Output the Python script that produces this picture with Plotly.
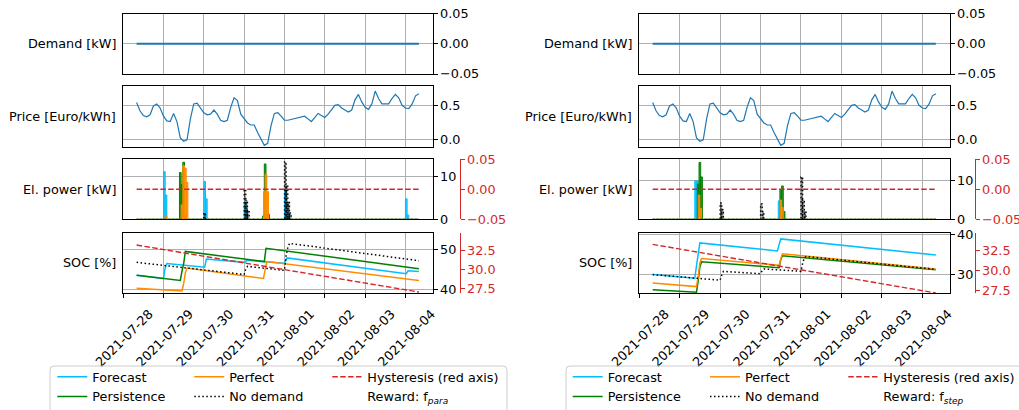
import pandas as pd
import plotly.graph_objects as go

W, H = 1019, 410
FS = 12.8
RED = "#d62728"
C_FORECAST = "#00bfff"
C_PERSIST = "#008000"
C_PERFECT = "#ff8c00"
C_NODEM = "black"
C_BASE = "#1f77b4"

T_START = "2021-07-28 08:00"
T_END = "2021-08-04 08:00"
X_RANGE = ["2021-07-27 23:36", "2021-08-04 16:24"]
DAY_TICKS = ["2021-07-28", "2021-07-29", "2021-07-30", "2021-07-31",
             "2021-08-01", "2021-08-02", "2021-08-03", "2021-08-04"]

# ---------------- demand & price (same in both panels) ----------------
DEMAND_T = [T_START, T_END]
DEMAND_KW = [0.0, 0.0]

PRICE_EUR_KWH = [0.54, 0.42, 0.35, 0.33, 0.36, 0.49, 0.52, 0.46, 0.34, 0.27, 0.26, 0.38,
                 0.26, 0.02, -0.03, -0.01, 0.30, 0.52, 0.53, 0.45, 0.39, 0.36, 0.37, 0.43,
                 0.37, 0.28, 0.26, 0.28, 0.47, 0.61, 0.57, 0.37, 0.31, 0.24, 0.21, 0.21,
                 0.10, 0.01, -0.09, -0.06, 0.20, 0.38, 0.39, 0.34, 0.28, 0.28, 0.29, 0.30,
                 0.31, 0.33, 0.34, 0.30, 0.26, 0.32, 0.38, 0.35, 0.32, 0.37, 0.44, 0.50,
                 0.51, 0.46, 0.43, 0.40, 0.43, 0.58, 0.66, 0.55, 0.47, 0.44, 0.52, 0.71,
                 0.60, 0.52, 0.52, 0.52, 0.60, 0.66, 0.61, 0.50, 0.46, 0.45, 0.52, 0.64, 0.67]
PRICE_T = pd.date_range(T_START, periods=len(PRICE_EUR_KWH), freq="2h")

# ---------------- electrical power events (hour start, kW) ----------------
# left panel (f_para)
PWR_L_FORECAST_T = ["2021-07-29 00:00", "2021-07-29 01:00", "2021-07-30 00:00", "2021-07-30 01:00",
                    "2021-07-31 00:00", "2021-07-31 01:00", "2021-08-01 00:00", "2021-08-01 01:00",
                    "2021-08-01 02:00", "2021-08-04 00:00", "2021-08-04 01:00"]
PWR_L_FORECAST = [11.2, 5.7, 8.9, 4.8, 4.0, 2.5, 7.0, 4.0, 1.5, 4.8, 1.0]
PWR_L_PERSIST_T = ["2021-07-29 09:30", "2021-07-29 10:30", "2021-07-29 11:30",
                   "2021-07-31 11:00", "2021-07-31 12:00", "2021-07-31 14:00"]
PWR_L_PERSIST = [11.0, 8.2, 13.4, 0.8, 13.0, 1.2]
PWR_L_PERFECT_T = ["2021-07-29 01:00", "2021-07-29 10:30", "2021-07-29 11:30", "2021-07-29 12:30",
                   "2021-07-29 13:30", "2021-07-31 11:30", "2021-07-31 12:30", "2021-07-31 13:30"]
PWR_L_PERFECT = [0.9, 3.4, 12.6, 12.0, 8.7, 6.5, 10.6, 6.5]
PWR_L_NODEM_T = ["2021-07-30 00:00", "2021-07-31 00:00", "2021-07-31 01:00", "2021-07-31 02:00",
                 "2021-08-01 00:00", "2021-08-01 01:00", "2021-08-01 02:00", "2021-08-01 03:00"]
PWR_L_NODEM = [1.5, 7.0, 4.5, 2.0, 13.5, 8.0, 4.0, 1.5]

# right panel (f_step)
PWR_R_FORECAST_T = ["2021-07-29 09:00", "2021-07-29 10:00", "2021-07-31 10:30"]
PWR_R_FORECAST = [9.8, 9.8, 4.7]
PWR_R_PERSIST_T = ["2021-07-29 10:30", "2021-07-29 11:30", "2021-07-29 12:30",
                   "2021-07-31 11:30", "2021-07-31 12:30", "2021-07-31 13:30"]
PWR_R_PERSIST = [9.0, 14.5, 10.8, 7.6, 8.5, 2.0]
PWR_R_PERFECT_T = ["2021-07-29 11:00", "2021-07-29 12:00", "2021-07-31 11:30", "2021-07-31 12:30"]
PWR_R_PERFECT = [6.2, 2.8, 4.9, 3.0]
PWR_R_NODEM_T = ["2021-07-30 00:00", "2021-07-30 01:00", "2021-07-31 00:00", "2021-07-31 01:00",
                 "2021-08-01 00:00", "2021-08-01 01:00", "2021-08-01 02:00"]
PWR_R_NODEM = [4.2, 2.5, 3.9, 2.0, 10.8, 5.0, 2.0]

HYST_PWR_T = [T_START, T_END]
HYST_PWR = [0.0, 0.0]

# ---------------- state of charge (%) ----------------
SOC_L_FORECAST_T = ["2021-07-28 08:00", "2021-07-29 00:00", "2021-07-29 01:00", "2021-07-29 02:00",
                    "2021-07-30 00:30", "2021-07-30 01:30", "2021-07-31 00:30", "2021-07-31 01:30",
                    "2021-08-01 00:00", "2021-08-01 01:30", "2021-08-04 00:30", "2021-08-04 01:30",
                    "2021-08-04 08:00"]
SOC_L_FORECAST = [43.6, 42.8, 45.5, 46.5, 45.6, 47.6, 46.8, 47.3, 46.6, 47.9, 44.0, 44.7, 44.5]
SOC_L_PERSIST_T = ["2021-07-28 08:00", "2021-07-29 10:00", "2021-07-29 11:00", "2021-07-29 12:00",
                   "2021-07-29 13:00", "2021-07-31 12:00", "2021-07-31 13:00", "2021-08-04 08:00"]
SOC_L_PERSIST = [43.6, 42.3, 44.6, 46.5, 49.5, 47.0, 50.3, 45.2]
SOC_L_PERFECT_T = ["2021-07-28 08:00", "2021-07-29 11:00", "2021-07-29 12:00", "2021-07-29 13:00",
                   "2021-07-29 14:00", "2021-07-31 11:30", "2021-07-31 12:30", "2021-07-31 13:30",
                   "2021-08-04 08:00"]
SOC_L_PERFECT = [40.4, 39.7, 41.5, 44.2, 45.4, 42.8, 45.0, 47.0, 42.3]
SOC_L_NODEM_T = ["2021-07-28 08:00", "2021-07-31 00:00", "2021-07-31 01:00", "2021-07-31 02:00",
                 "2021-08-01 00:00", "2021-08-01 01:00", "2021-08-01 02:00", "2021-08-01 03:00",
                 "2021-08-04 08:00"]
SOC_L_NODEM = [46.8, 43.8, 45.2, 45.8, 44.8, 48.5, 50.5, 51.5, 47.2]
HYST_SOC_T = [T_START, T_END]
HYST_SOC_L = [33.19, 27.06]

SOC_R_FORECAST_T = ["2021-07-28 08:00", "2021-07-29 09:00", "2021-07-29 10:00", "2021-07-29 11:00",
                    "2021-07-29 12:00", "2021-07-31 10:00", "2021-07-31 11:00", "2021-07-31 12:00",
                    "2021-08-04 08:00"]
SOC_R_FORECAST = [30.1, 29.2, 32.3, 35.5, 38.0, 36.0, 37.5, 39.0, 35.0]
SOC_R_PP_T = ["2021-07-28 08:00", "2021-07-29 10:00", "2021-07-29 11:00", "2021-07-29 12:00",
              "2021-07-29 13:00", "2021-07-31 11:00", "2021-07-31 12:00", "2021-07-31 13:00",
              "2021-08-04 08:00"]
SOC_R_PERSIST = [26.3, 25.7, 28.5, 32.0, 33.3, 31.8, 33.8, 34.8, 31.3]
SOC_R_PERFECT = [28.0, 27.1, 29.5, 33.0, 34.1, 32.4, 34.0, 35.3, 31.5]
SOC_R_NODEM_T = ["2021-07-28 08:00", "2021-07-30 00:00", "2021-07-30 01:00", "2021-07-30 02:00",
                 "2021-07-31 00:00", "2021-07-31 01:00", "2021-07-31 02:00", "2021-08-01 00:00",
                 "2021-08-01 01:00", "2021-08-01 02:00", "2021-08-01 03:00", "2021-08-04 08:00"]
SOC_R_NODEM = [30.1, 28.7, 30.0, 30.9, 30.3, 31.1, 31.5, 30.9, 33.0, 34.2, 34.6, 31.4]
HYST_SOC_R = [33.26, 27.25]

ROW_LABELS = ["Demand [kW]", "Price [Euro/kWh]", "El. power [kW]", "SOC [%]"]
REWARD_LABELS = ["Reward: f<sub><i>para</i></sub>", "Reward: f<sub><i>step</i></sub>"]

# ---------------- layout geometry (pixels) ----------------
ROWS_PX = [(13.7, 74.0), (86.3, 146.7), (159.3, 219.3), (232.5, 293.0)]
PANEL_X_PX = [(122.5, 433.0), (638.5, 950.0)]
RED_SPINE_PX = [460.0, 975.0]
LABEL_RIGHT_PX = [118.3, 634.0]
LEG_COLS_PX = [[52.3, 189.3, 327.3], [567.7, 705.0, 843.3]]
LEG_TOP_PX = 362.0
LEG_BOX_PX = [(50.0, 507.0), (566.0, 1030.0)]
LEG_BOX_TOP_PX = 366.0
DATE_LABEL_SHIFT_PX = 26
DATE_LABEL_STANDOFF_PX = 4


def step_xy(times, vals):
    xs = [pd.Timestamp(T_START)]
    ys = [0.0]
    for t, v in zip(times, vals):
        t0 = pd.Timestamp(t)
        t1 = t0 + pd.Timedelta(hours=1)
        xs += [t0, t0, t1, t1]
        ys += [0.0, v, v, 0.0]
    xs.append(pd.Timestamp(T_END))
    ys.append(0.0)
    return xs, ys


fig = go.Figure()

panels = [
    dict(pwr=[(PWR_L_FORECAST_T, PWR_L_FORECAST), (PWR_L_PERSIST_T, PWR_L_PERSIST),
              (PWR_L_PERFECT_T, PWR_L_PERFECT), (PWR_L_NODEM_T, PWR_L_NODEM)],
         soc=[(SOC_L_FORECAST_T, SOC_L_FORECAST), (SOC_L_PERSIST_T, SOC_L_PERSIST),
              (SOC_L_PERFECT_T, SOC_L_PERFECT), (SOC_L_NODEM_T, SOC_L_NODEM)],
         hyst=HYST_SOC_L, price_rng=[-0.11, 0.78], pwr_rng=[0, 14.1], soc_rng=[39.2, 54.2],
         soc_ticks=[40, 50], red_soc_rng=[26.93, 34.83]),
    dict(pwr=[(PWR_R_FORECAST_T, PWR_R_FORECAST), (PWR_R_PERSIST_T, PWR_R_PERSIST),
              (PWR_R_PERFECT_T, PWR_R_PERFECT), (PWR_R_NODEM_T, PWR_R_NODEM)],
         soc=[(SOC_R_FORECAST_T, SOC_R_FORECAST), (SOC_R_PP_T, SOC_R_PERSIST),
              (SOC_R_PP_T, SOC_R_PERFECT), (SOC_R_NODEM_T, SOC_R_NODEM)],
         hyst=HYST_SOC_R, price_rng=[-0.11, 0.78], pwr_rng=[0, 15.3], soc_rng=[25.5, 40.6],
         soc_ticks=[30, 40], red_soc_rng=[27.25, 34.73]),
]

NAMES = ["Forecast", "Persistence", "Perfect", "No demand"]
COLORS = [C_FORECAST, C_PERSIST, C_PERFECT, C_NODEM]
FILLS = ["rgba(0,191,255,0.85)", "rgba(0,128,0,0.8)", "rgba(255,140,0,0.85)", "rgba(0,0,0,0)"]
LEG_OF = [0, 0, 1, 1]


def ax_name(kind, n):
    return kind if n == 1 else f"{kind}{n}"


layout = dict(width=W, height=H, margin=dict(l=0, r=0, t=0, b=0, autoexpand=False),
              paper_bgcolor="white", plot_bgcolor="white", template="none",
              font=dict(family="DejaVu Sans", size=FS, color="black"),
              showlegend=True, annotations=[], shapes=[])

for p, P in enumerate(panels):
    x0p, x1p = PANEL_X_PX[p]
    xdom = [x0p / W, x1p / W]
    base = p * 4
    red_pwr_n = 9 + 2 * p
    red_soc_n = 10 + 2 * p
    for r in range(4):
        n = base + r + 1
        top, bot = ROWS_PX[r]
        ydom = [1 - bot / H, 1 - top / H]
        is_bottom = r == 3
        xcfg = dict(
            domain=xdom, anchor=ax_name("y", n), type="date", range=X_RANGE,
            tickvals=DAY_TICKS, ticktext=DAY_TICKS, showticklabels=is_bottom,
            ticks="outside" if is_bottom else "", ticklen=3.5, tickcolor="black",
            tickangle=-45, tickfont=dict(size=FS, color="black"),
            showgrid=True, gridcolor="#b0b0b0", gridwidth=0.8, zeroline=False,
            showline=True, mirror=True, linecolor="black", linewidth=1, automargin=False)
        if is_bottom:
            xcfg.update(ticklabelshift=DATE_LABEL_SHIFT_PX,
                        ticklabelstandoff=DATE_LABEL_STANDOFF_PX)
        layout[ax_name("xaxis", n)] = xcfg
        ycfg = dict(domain=ydom, anchor=ax_name("x", n), side="right",
                    showline=True, mirror=True, linecolor="black", linewidth=1,
                    ticks="outside", ticklen=3.5, tickcolor="black",
                    tickfont=dict(size=FS, color="black"), showgrid=True,
                    gridcolor="#b0b0b0", gridwidth=0.8, zeroline=False, automargin=False)
        if r == 0:
            ycfg.update(range=[-0.05, 0.05], tickvals=[-0.05, 0.0, 0.05], tickformat=".2f")
        elif r == 1:
            ycfg.update(range=P["price_rng"], tickvals=[0.0, 0.5], tickformat=".1f")
        elif r == 2:
            ycfg.update(range=P["pwr_rng"], tickvals=[0, 10], tickformat="d")
        else:
            ycfg.update(range=P["soc_rng"], tickvals=P["soc_ticks"], tickformat="d")
        layout[ax_name("yaxis", n)] = ycfg
        layout["annotations"].append(dict(
            text=ROW_LABELS[r], xref="paper", yref="paper",
            x=LABEL_RIGHT_PX[p] / W, y=1 - (top + bot) / 2 / H,
            xanchor="right", yanchor="middle", showarrow=False,
            font=dict(size=FS, color="black")))

    red_common = dict(anchor="free", position=RED_SPINE_PX[p] / W, side="right",
                      showline=True, linecolor=RED, linewidth=1, ticks="outside",
                      ticklen=3.5, tickcolor=RED, tickfont=dict(size=FS, color=RED),
                      showgrid=False, zeroline=False, automargin=False)
    layout[ax_name("yaxis", red_pwr_n)] = dict(
        overlaying=ax_name("y", base + 3), range=[-0.05, 0.05],
        tickvals=[-0.05, 0.0, 0.05], tickformat=".2f", **red_common)
    layout[ax_name("yaxis", red_soc_n)] = dict(
        overlaying=ax_name("y", base + 4), range=P["red_soc_rng"],
        tickvals=[27.5, 30.0, 32.5], tickformat=".1f", **red_common)

    # demand
    fig.add_trace(go.Scatter(x=DEMAND_T, y=DEMAND_KW, mode="lines",
                             line=dict(color=C_BASE, width=2), showlegend=False,
                             xaxis=ax_name("x", base + 1), yaxis=ax_name("y", base + 1)))
    # price
    fig.add_trace(go.Scatter(x=PRICE_T, y=PRICE_EUR_KWH, mode="lines",
                             line=dict(color=C_BASE, width=1.2), showlegend=False,
                             xaxis=ax_name("x", base + 2), yaxis=ax_name("y", base + 2)))
    # electrical power
    for i, (ts, vs) in enumerate(P["pwr"]):
        xs, ys = step_xy(ts, vs)
        kw = dict(x=xs, y=ys, mode="lines", showlegend=False, fill="tozeroy",
                  fillcolor=FILLS[i],
                  xaxis=ax_name("x", base + 3), yaxis=ax_name("y", base + 3))
        if i == 3:
            kw["line"] = dict(color=C_NODEM, width=1.3, dash="1.5px,2.5px")
            kw["fillpattern"] = dict(shape=".", fgcolor="black", size=3, solidity=0.45)
        else:
            kw["line"] = dict(color=COLORS[i], width=1.0)
        fig.add_trace(go.Scatter(**kw))
    fig.add_trace(go.Scatter(x=HYST_PWR_T, y=HYST_PWR, mode="lines",
                             line=dict(color=RED, width=1.4, dash="5.5px,2.4px"),
                             showlegend=False,
                             xaxis=ax_name("x", base + 3), yaxis=ax_name("y", red_pwr_n)))
    # SOC
    leg_names = [ax_name("legend", 3 * p + k + 1) for k in range(3)]
    for i, (ts, vs) in enumerate(P["soc"]):
        line = dict(color=COLORS[i], width=1.5)
        if i == 3:
            line = dict(color=C_NODEM, width=1.5, dash="1.5px,2.5px")
        fig.add_trace(go.Scatter(x=ts, y=vs, mode="lines", line=line, name=NAMES[i],
                                 legend=leg_names[LEG_OF[i]],
                                 xaxis=ax_name("x", base + 4), yaxis=ax_name("y", base + 4)))
    fig.add_trace(go.Scatter(x=HYST_SOC_T, y=P["hyst"], mode="lines",
                             line=dict(color=RED, width=1.4, dash="5.5px,2.4px"),
                             name="Hysteresis (red axis)", legend=leg_names[2],
                             xaxis=ax_name("x", base + 4), yaxis=ax_name("y", red_soc_n)))
    fig.add_trace(go.Scatter(x=[None], y=[None], mode="lines",
                             line=dict(color="rgba(0,0,0,0)", width=1),
                             name=REWARD_LABELS[p], legend=leg_names[2],
                             xaxis=ax_name("x", base + 4), yaxis=ax_name("y", base + 4)))
    for k in range(3):
        layout[leg_names[k]] = dict(
            x=LEG_COLS_PX[p][k] / W, y=1 - LEG_TOP_PX / H, xanchor="left", yanchor="top",
            orientation="v", bgcolor="rgba(0,0,0,0)", borderwidth=0,
            font=dict(size=FS, color="black"), itemwidth=30, tracegroupgap=0)

    # legend frame
    bx0, bx1 = LEG_BOX_PX[p]
    rx, ry = 4 / W, 4 / H
    X0, X1 = bx0 / W, bx1 / W
    YT = 1 - LEG_BOX_TOP_PX / H
    YB = -0.05
    path = (f"M{X0},{YB} L{X0},{YT - ry} Q{X0},{YT} {X0 + rx},{YT} "
            f"L{X1 - rx},{YT} Q{X1},{YT} {X1},{YT - ry} L{X1},{YB}")
    layout["shapes"].append(dict(type="path", path=path, xref="paper", yref="paper",
                                 line=dict(color="#cccccc", width=1)))

fig.update_layout(**layout)
fig.write_html("out.html",
               config={"displayModeBar": False},
               post_script="document.body.style.margin='0px';"
                           "document.body.style.overflow='hidden';")
